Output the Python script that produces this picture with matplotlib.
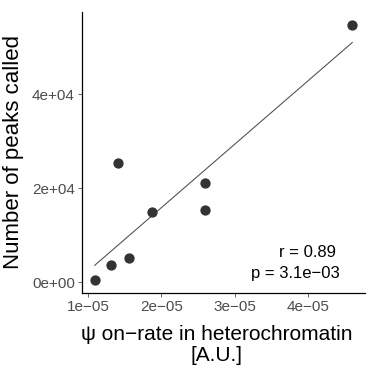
"""Peaks called vs psi on-rate in heterochromatin."""
import matplotlib
matplotlib.use('Agg')
import matplotlib.pyplot as plt
import numpy as np

# values
on_rate = np.array([1.09e-05, 1.31e-05, 1.41e-05, 1.56e-05, 1.87e-05,
                    2.59e-05, 2.59e-05, 4.60e-05])
n_peaks = np.array([420, 3600, 25400, 5080, 15030, 15450, 21160, 54800])

x_ticks = [1e-05, 2e-05, 3e-05, 4e-05]
x_labels = ['1e\u221205', '2e\u221205', '3e\u221205', '4e\u221205']
y_ticks = [0, 20000, 40000]
y_labels = ['0e+00', '2e+04', '4e+04']

plt.rcParams['font.family'] = ['Liberation Sans', 'DejaVu Sans']

fig = plt.figure(figsize=(3.67, 3.71), dpi=100)
ax = fig.add_axes([0.223, 0.210, 0.772, 0.758])

ax.scatter(on_rate, n_peaks, s=55, color='#333333', zorder=3, linewidths=0)

# linear fit
slope, icpt = np.polyfit(on_rate, n_peaks, 1)
xs = np.array([on_rate.min(), on_rate.max()])
ax.plot(xs, slope * xs + icpt, color='#555555', lw=0.8, zorder=2)

# ggplot-like 5% expansion
xr = on_rate.max() - on_rate.min()
yr = n_peaks.max() - n_peaks.min()
ax.set_xlim(on_rate.min() - 0.05 * xr, on_rate.max() + 0.05 * xr)
ax.set_ylim(n_peaks.min() - 0.05 * yr, n_peaks.max() + 0.05 * yr)

ax.set_xticks(x_ticks)
ax.set_xticklabels(x_labels)
ax.set_yticks(y_ticks)
ax.set_yticklabels(y_labels)
ax.tick_params(colors='#4D4D4D', labelsize=11, length=3, width=0.6, pad=2)
for lab in ax.get_xticklabels() + ax.get_yticklabels():
    lab.set_color('#4D4D4D')

for side in ['top', 'right']:
    ax.spines[side].set_visible(False)
for side in ['left', 'bottom']:
    ax.spines[side].set_color('black')
    ax.spines[side].set_linewidth(0.9)

ax.set_xlabel('\u03c8 on\u2212rate in heterochromatin\n[A.U.]', fontsize=15,
              linespacing=1.1)
ax.xaxis.set_label_coords(0.475, -0.115, transform=ax.transAxes)
ax.xaxis.label.set_va('top')
ax.set_ylabel('Number of peaks called', fontsize=16, labelpad=6)

ax.text(0.898, 0.146, 'r = 0.89', transform=ax.transAxes, ha='right',
        va='center', fontsize=12)
ax.text(0.912, 0.071, 'p = 3.1e\u221203', transform=ax.transAxes, ha='right',
        va='center', fontsize=12)

fig.savefig('out.png', dpi=100)
